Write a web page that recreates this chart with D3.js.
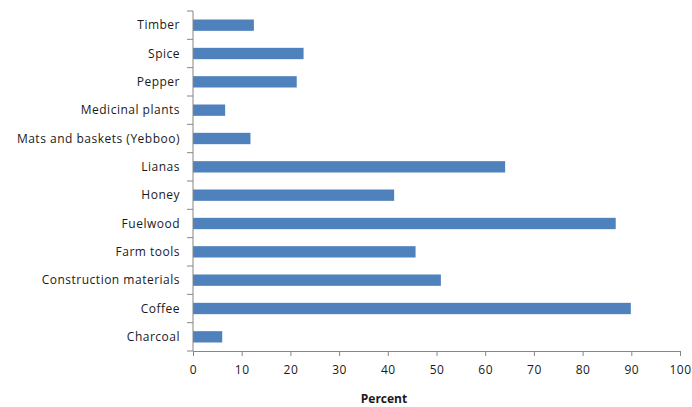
<!DOCTYPE html>
<html>
<head>
<meta charset="utf-8">
<script src="https://cdn.jsdelivr.net/npm/d3@7"></script>
<style>
  body { margin: 0; background: #fff; }
  text { font-family: "Open Sans", "Liberation Sans", sans-serif; fill: #1a1a1a; }
</style>
</head>
<body>
<svg id="chart" width="692" height="407"></svg>
<script>
// categories top to bottom, as in the chart
var categories = ["Timber", "Spice", "Pepper", "Medicinal plants", "Mats and baskets (Yebboo)",
    "Lianas", "Honey", "Fuelwood", "Farm tools", "Construction materials", "Coffee", "Charcoal"];
var percent = [12.5, 22.7, 21.3, 6.6, 11.8, 64.1, 41.3, 86.8, 45.7, 50.9, 89.9, 6.0];
var xTicks = [0, 10, 20, 30, 40, 50, 60, 70, 80, 90, 100];

var margin = {top: 11, right: 12, bottom: 56, left: 193};
var width = 692 - margin.left - margin.right,
    height = 407 - margin.top - margin.bottom;

var svg = d3.select("#chart");
var g = svg.append("g").attr("transform", "translate(" + margin.left + "," + margin.top + ")");

var x = d3.scaleLinear().domain([0, 100]).range([0, width]);
var y = d3.scaleBand().domain(categories).range([0, height]).paddingInner(0.6).paddingOuter(0.3);

// bars
g.selectAll("rect.bar")
    .data(categories)
    .enter().append("rect")
    .attr("class", "bar")
    .attr("x", 0)
    .attr("y", function(d) { return y(d); })
    .attr("width", function(d, i) { return x(percent[i]); })
    .attr("height", y.bandwidth())
    .attr("fill", "#4f81bd");

// y axis: ticks sit at band edges
var step = height / categories.length;
g.append("line")
    .attr("x1", 0).attr("x2", 0).attr("y1", 0).attr("y2", height)
    .attr("stroke", "#868686");
g.selectAll("line.ytick")
    .data(d3.range(categories.length + 1))
    .enter().append("line")
    .attr("class", "ytick")
    .attr("x1", -6).attr("x2", 0)
    .attr("y1", function(i) { return i * step; })
    .attr("y2", function(i) { return i * step; })
    .attr("stroke", "#868686");
g.selectAll("text.ylab")
    .data(categories)
    .enter().append("text")
    .attr("class", "ylab")
    .attr("x", -13)
    .attr("y", function(d) { return y(d) + y.bandwidth() / 2; })
    .attr("dy", "0.35em")
    .attr("text-anchor", "end")
    .style("font-size", "12px")
    .style("letter-spacing", "0.5px")
    .text(function(d) { return d; });

// x axis
var xAxis = g.append("g")
    .attr("transform", "translate(0," + height + ")")
    .call(d3.axisBottom(x).tickValues(xTicks).tickSize(5).tickSizeOuter(0));
xAxis.select(".domain").attr("stroke", "#868686");
xAxis.selectAll(".tick line").attr("stroke", "#868686");
xAxis.selectAll(".tick text")
    .attr("y", 14)
    .attr("dy", "0.71em")
    .style("font-family", "'Open Sans', 'Liberation Sans', sans-serif")
    .style("font-size", "12px")
    .style("letter-spacing", "0.5px")
    .attr("fill", "#1a1a1a");

svg.append("text")
    .attr("x", 384)
    .attr("y", 403)
    .attr("text-anchor", "middle")
    .style("font-size", "12px")
    .style("font-weight", "bold")
    .text("Percent");
</script>
</body>
</html>
